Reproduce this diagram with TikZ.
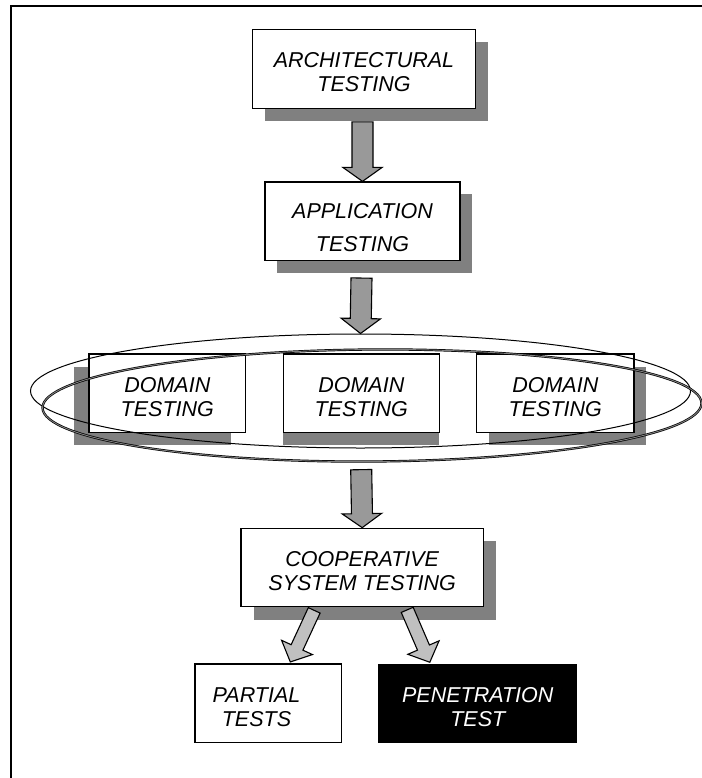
\documentclass[tikz,border=0pt]{standalone}
\usepackage{fontspec}
\setmainfont{Liberation Sans}
\usetikzlibrary{calc,shapes.geometric}

\definecolor{shadowgray}{HTML}{808080}
\definecolor{arrowdark}{HTML}{999999}
\definecolor{arrowlight}{HTML}{C0C0C0}

\tikzset{
  box/.style={draw, line width=1.2pt, fill=white, inner sep=0pt, minimum height=78.5,
    align=center, font=\itshape\fontsize{21.5}{24}\selectfont},
  lbl/.style={inner sep=0pt, align=center, font=\itshape\fontsize{21.5}{24}\selectfont},
  shadow/.style={preaction={draw=none, fill=shadowgray, transform canvas={shift={(#1)}}}},
  ring/.style={ellipse, draw, inner sep=0pt},
  fatdark/.style={draw, line width=1.1pt, fill=arrowdark},
  fatlight/.style={draw, line width=1.1pt, fill=arrowlight},
}

% block arrow: [style]{from}{to}{shaft half width}{head half width}{head length}
\newcommand{\fatarrow}[6][]{%
  \coordinate (fatbase) at ($(#3)!#6!(#2)$);
  \draw[#1] ($(#2)!#4!90:(#3)$) -- ($(fatbase)!#4!90:(#3)$)
    -- ($(fatbase)!#5!90:(#3)$) -- (#3)
    -- ($(fatbase)!#5!-90:(#3)$) -- ($(fatbase)!#4!-90:(#3)$)
    -- ($(#2)!#4!-90:(#3)$) -- cycle;}
\newcommand{\tallstrut}[1][22pt]{\rule{0pt}{#1}}

\begin{document}
\begin{tikzpicture}[x=1pt,y=-1pt]
  \useasboundingbox (0,0) rectangle (701,778);
  \draw[line width=1.5pt] (11,790) -- (11,6) -- (720,6);

  \node[box, shadow={12.5pt,-12.5pt}, minimum width=223] (arch) at (364,69)
    {\tallstrut ARCHITECTURAL\\TESTING};
  \node[box, shadow={12pt,-12.5pt}, minimum width=195] (app) at (362.5,221.2)
    {\tallstrut[27pt]APPLICATION\\[9pt]TESTING};

  \node[box, shadow={-15pt,-13pt}, minimum width=156.7] (dom1) at (167.3,393.2)
    {\tallstrut DOMAIN\\TESTING};
  \node[box, shadow={0pt,-13pt}, minimum width=156] (dom2) at (361.3,393.2)
    {\tallstrut DOMAIN\\TESTING};
  \node[box, shadow={12pt,-13pt}, minimum width=157.3] (dom3) at (555.3,393.2)
    {\tallstrut DOMAIN\\TESTING};

  \node[ring, line width=1pt, minimum width=660, minimum height=114] (ringA) at (360.5,391) {};
  \node[ring, line width=0.7pt, double=gray, double distance=0.9pt, rotate=0.4,
    minimum width=659, minimum height=112] (ringB) at (372,405.5) {};

  \node[box, shadow={13pt,-13pt}, minimum width=242.3] (coop) at (362.2,567.5)
    {\tallstrut COOPERATIVE\\SYSTEM TESTING};

  \node[box, minimum width=146.7] (partial) at (268.3,703.3) {};
  \node[lbl] (partialtxt) at (256.5,707) {PARTIAL\\TESTS};
  \node[box, fill=black, text=white, minimum width=197.7] (pen) at (477.8,703.6)
    {\tallstrut PENETRATION\\TEST};

  \coordinate (s1) at ($(arch.south)+(-1.5,13)$);
  \coordinate (s2) at ($(app.south)+(-1,17)$);
  \coordinate (s3) at ($(coop.north)+(-1,-58)$);
  \coordinate (s4) at ($(coop.south)+(-48,3)$);
  \coordinate (e4) at ($(partial.north)+(22,-1.5)$);
  \coordinate (s5) at ($(coop.south)+(45,2.5)$);
  \coordinate (e5) at ($(pen.north)+(-48,-1.5)$);

  \fatarrow[fatdark]{s1}{app.north}{10.5pt}{19.7pt}{14pt}
  \fatarrow[fatdark]{s2}{ringA.north}{10.5pt}{19.7pt}{15pt}
  \fatarrow[fatdark]{s3}{coop.north}{10.5pt}{19.7pt}{14pt}
  \fatarrow[fatlight]{s4}{e4}{6.5pt}{17pt}{16pt}
  \fatarrow[fatlight]{s5}{e5}{6.5pt}{17pt}{16pt}
\end{tikzpicture}
\end{document}
